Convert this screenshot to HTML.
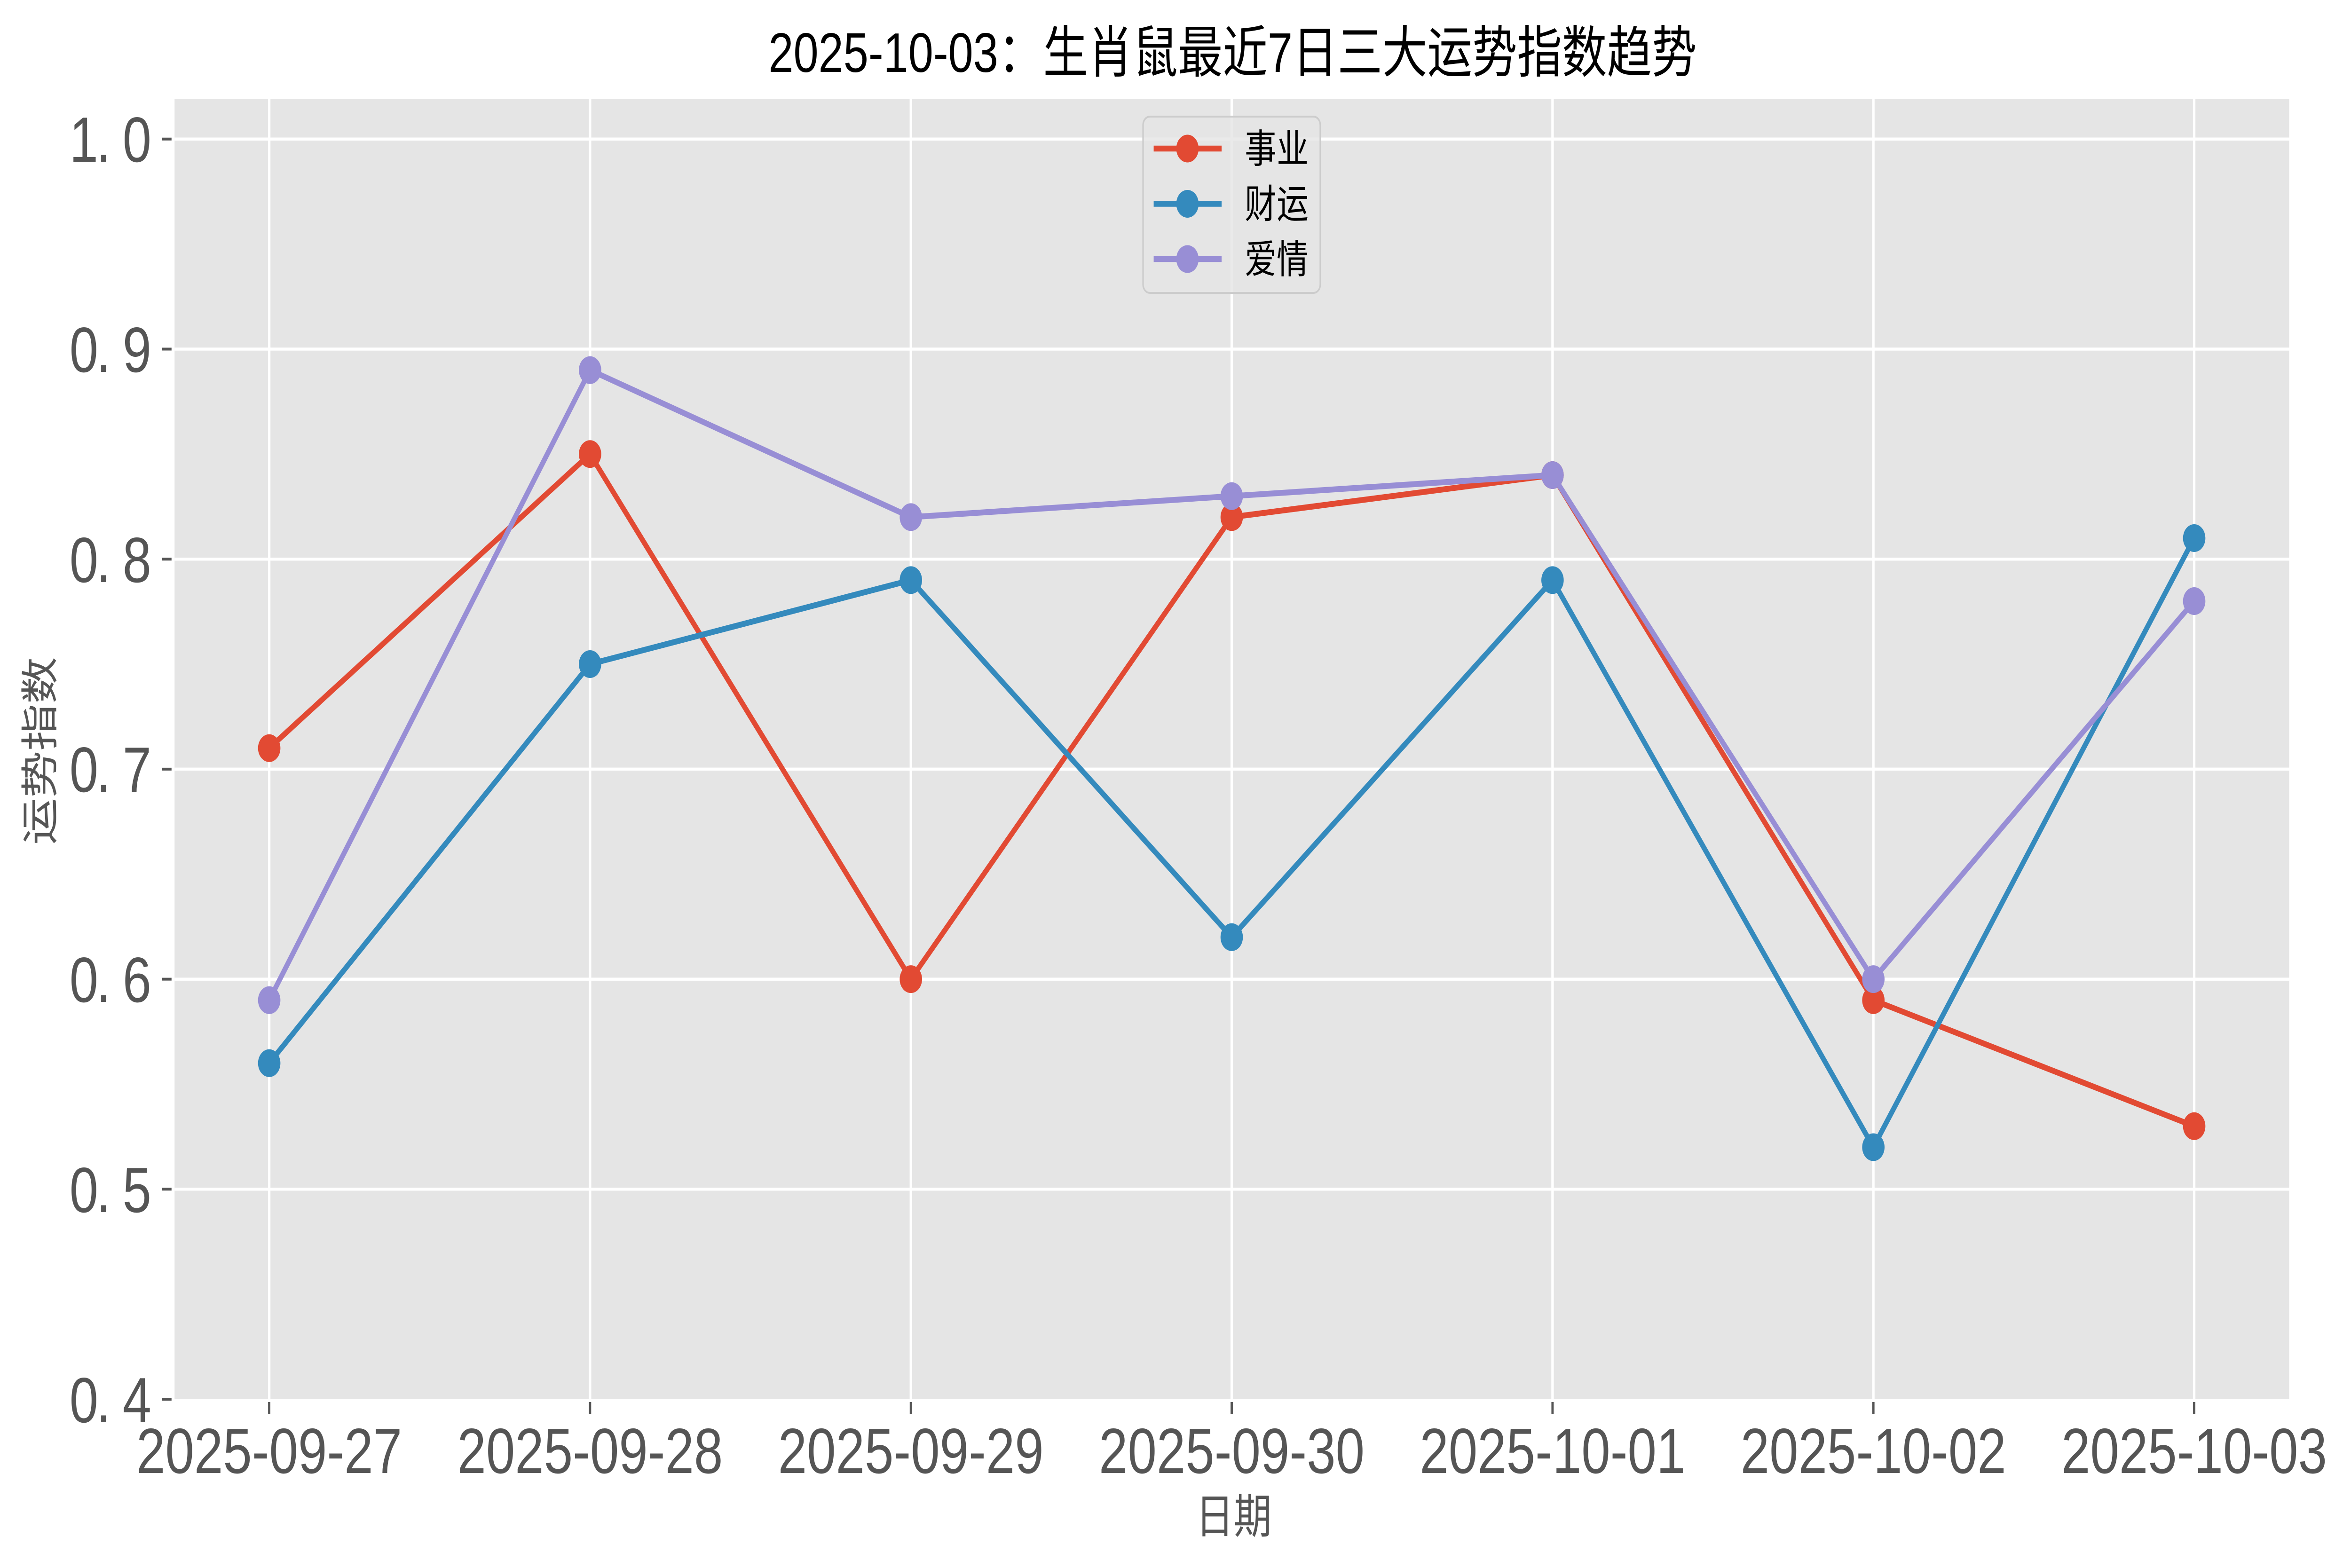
<!DOCTYPE html>
<html>
<head>
<meta charset="utf-8">
<style>
html,body{margin:0;padding:0;background:#ffffff;width:100%;height:100%;overflow:hidden;}
svg{display:block;width:100vw;height:100vh;}
</style>
</head>
<body>
<svg xmlns="http://www.w3.org/2000/svg" viewBox="0 0 6195 3335" preserveAspectRatio="none">
  <rect x="0" y="0" width="6195" height="3335" fill="#ffffff"/>
  <!-- plot area -->
  <rect x="460" y="210" width="5572" height="2765" fill="#E5E5E5"/>
  <!-- grid -->
  <g stroke="#ffffff" stroke-width="6.5">
    <line x1="709.4" y1="210" x2="709.4" y2="2975"/>
    <line x1="1554.8" y1="210" x2="1554.8" y2="2975"/>
    <line x1="2400.2" y1="210" x2="2400.2" y2="2975"/>
    <line x1="3245.6" y1="210" x2="3245.6" y2="2975"/>
    <line x1="4091" y1="210" x2="4091" y2="2975"/>
    <line x1="4936.4" y1="210" x2="4936.4" y2="2975"/>
    <line x1="5781.8" y1="210" x2="5781.8" y2="2975"/>
    <line x1="460" y1="2529.3" x2="6032" y2="2529.3"/>
    <line x1="460" y1="2082.6" x2="6032" y2="2082.6"/>
    <line x1="460" y1="1635.9" x2="6032" y2="1635.9"/>
    <line x1="460" y1="1189.2" x2="6032" y2="1189.2"/>
    <line x1="460" y1="742.5" x2="6032" y2="742.5"/>
    <line x1="460" y1="295.8" x2="6032" y2="295.8"/>
  </g>
  <!-- ticks -->
  <g stroke="#555555" stroke-width="6">
    <line x1="427" y1="2976" x2="452" y2="2976"/>
    <line x1="427" y1="2529.3" x2="452" y2="2529.3"/>
    <line x1="427" y1="2082.6" x2="452" y2="2082.6"/>
    <line x1="427" y1="1635.9" x2="452" y2="1635.9"/>
    <line x1="427" y1="1189.2" x2="452" y2="1189.2"/>
    <line x1="427" y1="742.5" x2="452" y2="742.5"/>
    <line x1="427" y1="295.8" x2="452" y2="295.8"/>
    <line x1="709.4" y1="2982" x2="709.4" y2="3008"/>
    <line x1="1554.8" y1="2982" x2="1554.8" y2="3008"/>
    <line x1="2400.2" y1="2982" x2="2400.2" y2="3008"/>
    <line x1="3245.6" y1="2982" x2="3245.6" y2="3008"/>
    <line x1="4091" y1="2982" x2="4091" y2="3008"/>
    <line x1="4936.4" y1="2982" x2="4936.4" y2="3008"/>
    <line x1="5781.8" y1="2982" x2="5781.8" y2="3008"/>
  </g>
  <!-- y tick labels -->
  <g font-family="'Liberation Sans', 'Noto Sans CJK SC', sans-serif" font-size="136" fill="#555555" text-anchor="middle">
    <text x="221 273 361" y="3025">0.4</text>
    <text x="221 273 361" y="2578">0.5</text>
    <text x="221 273 361" y="2131">0.6</text>
    <text x="221 273 361" y="1684">0.7</text>
    <text x="221 273 361" y="1238">0.8</text>
    <text x="221 273 361" y="791">0.9</text>
    <text x="221 273 361" y="344">1.0</text>
  </g>
  <!-- x tick labels -->
  <g font-family="'Liberation Sans', 'Noto Sans CJK SC', sans-serif" font-size="136" fill="#555555" text-anchor="middle">
    <text x="709.4" y="3133" textLength="700" lengthAdjust="spacingAndGlyphs">2025-09-27</text>
    <text x="1554.8" y="3133" textLength="700" lengthAdjust="spacingAndGlyphs">2025-09-28</text>
    <text x="2400.2" y="3133" textLength="700" lengthAdjust="spacingAndGlyphs">2025-09-29</text>
    <text x="3245.6" y="3133" textLength="700" lengthAdjust="spacingAndGlyphs">2025-09-30</text>
    <text x="4091" y="3133" textLength="700" lengthAdjust="spacingAndGlyphs">2025-10-01</text>
    <text x="4936.4" y="3133" textLength="700" lengthAdjust="spacingAndGlyphs">2025-10-02</text>
    <text x="5781.8" y="3133" textLength="700" lengthAdjust="spacingAndGlyphs">2025-10-03</text>
  </g>
  <!-- axis labels -->
  <text x="3251" y="3227" font-family="'Liberation Sans', 'Noto Sans CJK SC', sans-serif" font-size="100" fill="#555555" text-anchor="middle" dominant-baseline="central">日期</text>
  <text x="0" y="0" transform="translate(107,1597) rotate(-90)" font-family="'Liberation Sans', 'Noto Sans CJK SC', sans-serif" font-size="100" fill="#555555" text-anchor="middle" dominant-baseline="central">运势指数</text>
  <!-- title -->
  <text x="3248" y="153" font-family="'Liberation Sans', 'Noto Sans CJK SC', sans-serif" font-size="119" fill="#000000" text-anchor="middle" textLength="2446" lengthAdjust="spacingAndGlyphs">2025-10-03：生肖鼠最近7日三大运势指数趋势</text>

  <!-- series: 事业 -->
  <g stroke="#E24A33" fill="#E24A33">
    <polyline fill="none" stroke-width="12.5" stroke-linejoin="round" stroke-linecap="square"
      points="709.4,1591.2 1554.8,965.8 2400.2,2082.6 3245.6,1099.9 4091,1010.5 4936.4,2127.3 5781.8,2395.3"/>
    <g stroke="none">
      <circle cx="709.4" cy="1591.2" r="29.5"/>
      <circle cx="1554.8" cy="965.8" r="29.5"/>
      <circle cx="2400.2" cy="2082.6" r="29.5"/>
      <circle cx="3245.6" cy="1099.9" r="29.5"/>
      <circle cx="4091" cy="1010.5" r="29.5"/>
      <circle cx="4936.4" cy="2127.3" r="29.5"/>
      <circle cx="5781.8" cy="2395.3" r="29.5"/>
    </g>
  </g>
  <!-- series: 财运 -->
  <g stroke="#348ABD" fill="#348ABD">
    <polyline fill="none" stroke-width="12.5" stroke-linejoin="round" stroke-linecap="square"
      points="709.4,2261.3 1554.8,1412.5 2400.2,1233.9 3245.6,1993.3 4091,1233.9 4936.4,2440 5781.8,1144.5"/>
    <g stroke="none">
      <circle cx="709.4" cy="2261.3" r="29.5"/>
      <circle cx="1554.8" cy="1412.5" r="29.5"/>
      <circle cx="2400.2" cy="1233.9" r="29.5"/>
      <circle cx="3245.6" cy="1993.3" r="29.5"/>
      <circle cx="4091" cy="1233.9" r="29.5"/>
      <circle cx="4936.4" cy="2440" r="29.5"/>
      <circle cx="5781.8" cy="1144.5" r="29.5"/>
    </g>
  </g>
  <!-- series: 爱情 -->
  <g stroke="#988ED5" fill="#988ED5">
    <polyline fill="none" stroke-width="12.5" stroke-linejoin="round" stroke-linecap="square"
      points="709.4,2127.3 1554.8,787.2 2400.2,1099.9 3245.6,1055.2 4091,1010.5 4936.4,2082.6 5781.8,1278.5"/>
    <g stroke="none">
      <circle cx="709.4" cy="2127.3" r="29.5"/>
      <circle cx="1554.8" cy="787.2" r="29.5"/>
      <circle cx="2400.2" cy="1099.9" r="29.5"/>
      <circle cx="3245.6" cy="1055.2" r="29.5"/>
      <circle cx="4091" cy="1010.5" r="29.5"/>
      <circle cx="4936.4" cy="2082.6" r="29.5"/>
      <circle cx="5781.8" cy="1278.5" r="29.5"/>
    </g>
  </g>

  <!-- legend -->
  <rect x="3012" y="248" width="467" height="375" rx="18" ry="18" fill="#E5E5E5" fill-opacity="0.8" stroke="#CCCCCC" stroke-width="4"/>
  <g stroke-width="12.5">
    <line x1="3040" y1="316" x2="3219" y2="316" stroke="#E24A33"/>
    <circle cx="3129" cy="316" r="29.5" fill="#E24A33"/>
    <line x1="3040" y1="433.5" x2="3219" y2="433.5" stroke="#348ABD"/>
    <circle cx="3129" cy="433.5" r="29.5" fill="#348ABD"/>
    <line x1="3040" y1="551" x2="3219" y2="551" stroke="#988ED5"/>
    <circle cx="3129" cy="551" r="29.5" fill="#988ED5"/>
  </g>
  <g font-family="'Liberation Sans', 'Noto Sans CJK SC', sans-serif" font-size="84" fill="#000000" dominant-baseline="central">
    <text x="3280" y="318">事业</text>
    <text x="3280" y="435.5">财运</text>
    <text x="3280" y="553">爱情</text>
  </g>
</svg>
</body>
</html>
